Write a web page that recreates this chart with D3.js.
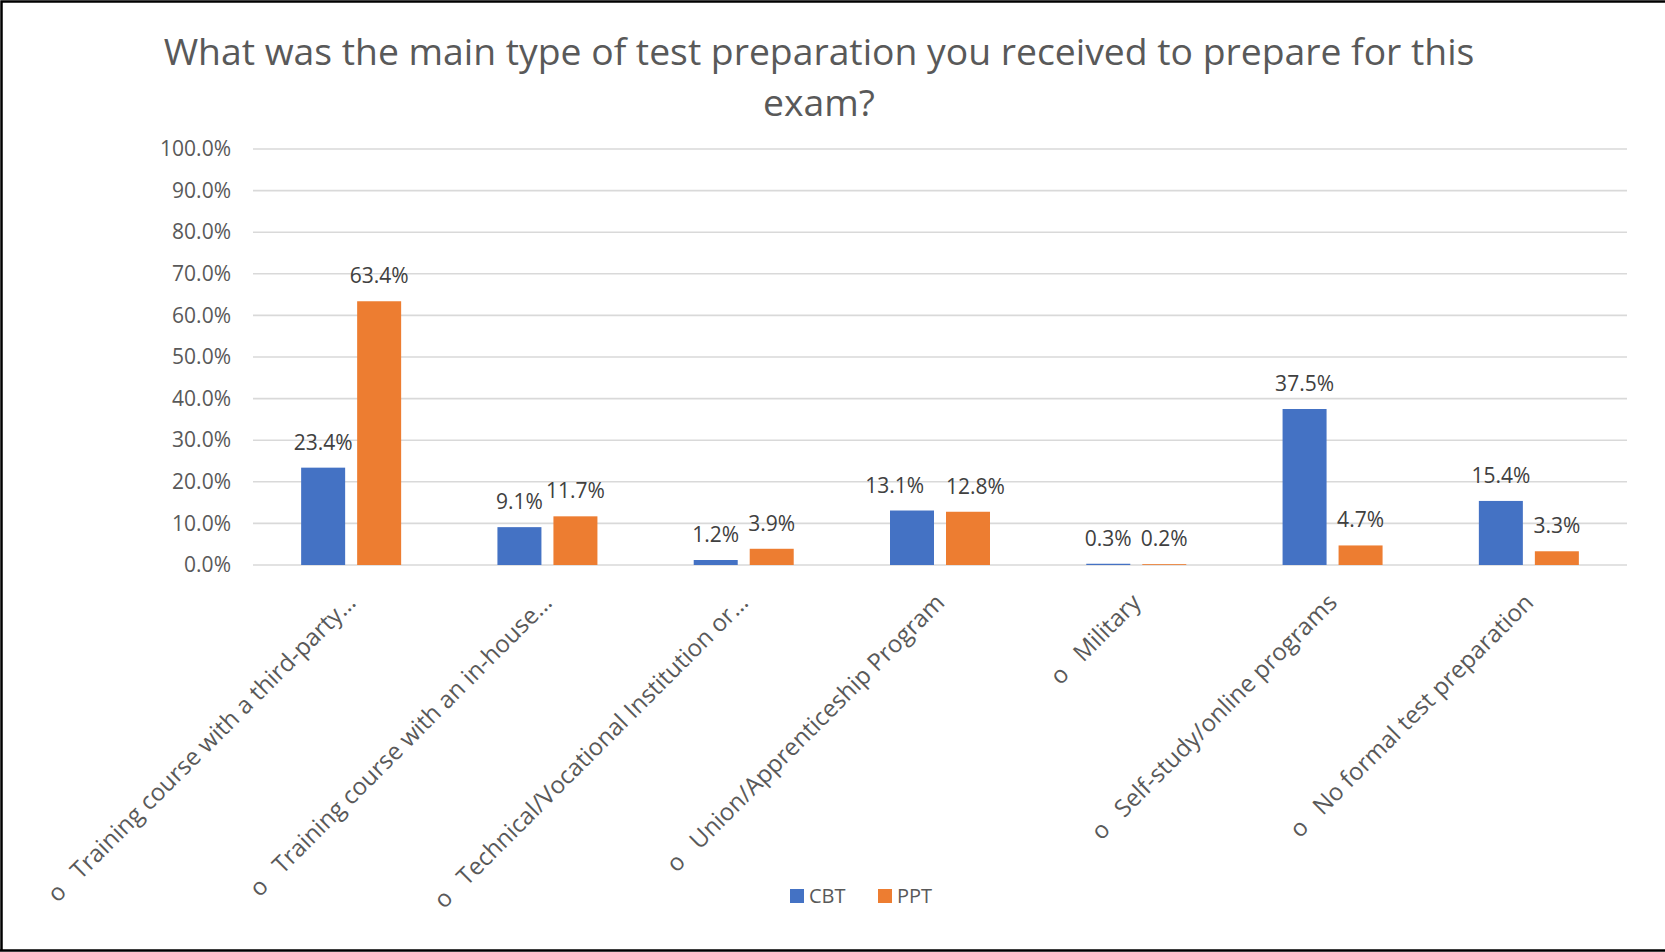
<!DOCTYPE html>
<html>
<head>
<meta charset="utf-8">
<script src="https://cdn.jsdelivr.net/npm/d3@7"></script>
<style>
  body { margin: 0; background: #fff; }
  text { font-family: "Open Sans", "Noto Sans", sans-serif; }
</style>
</head>
<body>
<script>
// chart values
var categories = [
  "Training course with a third-party\u2026",
  "Training course with an in-house\u2026",
  "Technical/Vocational Institution or\u2026",
  "Union/Apprenticeship Program",
  "Military",
  "Self-study/online programs",
  "No formal test preparation"
];
var series = ["CBT", "PPT"];
var cbt = [0.234, 0.091, 0.012, 0.131, 0.003, 0.375, 0.154];
var ppt = [0.634, 0.117, 0.039, 0.128, 0.002, 0.047, 0.033];
var yTicks = [0, 0.1, 0.2, 0.3, 0.4, 0.5, 0.6, 0.7, 0.8, 0.9, 1.0];
var colors = ["#4472C4", "#ED7D31"];
var titleLines = ["What was the main type of test preparation you received to prepare for this", "exam?"];

var w = 1665;
var h = 952;
var plotL = 253, plotR = 1627, plotT = 149, plotB = 565;
var pct = d3.format(".1%");

var svg = d3.select("body")
  .append("svg")
  .attr("width", w)
  .attr("height", h)
  .style("display", "block");

svg.append("rect").attr("width", w).attr("height", h).attr("fill", "#fff");

// frame lines
svg.append("path")
  .attr("d", "M1.5,951 L1.5,1.5 L1665,1.5 M0,950.5 L1665,950.5")
  .attr("fill", "none")
  .attr("stroke", "#000")
  .attr("stroke-width", 2.5);

// title
svg.append("text")
  .attr("text-anchor", "middle")
  .attr("font-size", "37.3px")
  .attr("fill", "#595959")
  .selectAll("tspan")
  .data(titleLines)
  .enter()
  .append("tspan")
  .attr("x", 819)
  .attr("y", function(d, i) { return 65 + i * 51; })
  .text(function(d) { return d; });

var y = d3.scaleLinear().domain([0, 1]).range([plotB, plotT]);
var x0 = d3.scaleBand().domain(categories).range([plotL, plotR]);
var x1 = d3.scaleBand().domain(series).range([0, 100]).paddingInner(12 / 56);
var off = x0.bandwidth() / 2 - 50;

// gridlines
svg.append("g")
  .selectAll("line")
  .data(yTicks)
  .enter()
  .append("line")
  .attr("x1", plotL)
  .attr("x2", plotR)
  .attr("y1", function(d) { return y(d); })
  .attr("y2", function(d) { return y(d); })
  .attr("stroke", "#D9D9D9")
  .attr("stroke-width", 1.6);

// y axis labels
var yAxis = d3.axisLeft(y).tickValues(yTicks).tickFormat(pct).tickSize(0).tickPadding(22);
var ya = svg.append("g").attr("transform", "translate(" + plotL + ",0)").call(yAxis);
ya.select(".domain").remove();
ya.selectAll("text")
  .attr("font-size", "21px")
  .attr("font-family", "'Open Sans', sans-serif")
  .attr("fill", "#595959");

var rows = categories.map(function(c, i) {
  return { cat: c, vals: [cbt[i], ppt[i]] };
});

var groups = svg.selectAll("g.grp")
  .data(rows)
  .enter()
  .append("g")
  .attr("class", "grp")
  .attr("transform", function(d) { return "translate(" + (x0(d.cat) + off) + ",0)"; });

groups.selectAll("rect")
  .data(function(d) { return d.vals; })
  .enter()
  .append("rect")
  .attr("x", function(d, i) { return x1(series[i]); })
  .attr("y", function(d) { return y(d); })
  .attr("width", x1.bandwidth())
  .attr("height", function(d) { return plotB - y(d); })
  .attr("fill", function(d, i) { return colors[i]; });

groups.each(function() {
  var labs = d3.select(this).selectAll("text")
    .data(function(d) { return d.vals; })
    .enter()
    .append("text")
    .attr("text-anchor", "middle")
    .attr("x", function(d, i) { return x1(series[i]) + x1.bandwidth() / 2; })
    .attr("y", function(d) { return y(d) - 18; })
    .attr("font-size", "21px")
    .attr("fill", "#404040")
    .text(function(d) { return pct(d); });

  // push the two labels apart only when they would touch (as Excel does)
  var n = labs.nodes();
  var a = n[0], b = n[1];
  var wa = a.getComputedTextLength(), wb = b.getComputedTextLength();
  var xa = +a.getAttribute("x"), xb = +b.getAttribute("x");
  var ya0 = +a.getAttribute("y"), yb0 = +b.getAttribute("y");
  var gap = (xb - wb / 2) - (xa + wa / 2);
  if (Math.abs(ya0 - yb0) < 20 && gap < 3) {
    var need = 22 - gap;
    a.setAttribute("x", xa - need * 0.7);
    b.setAttribute("x", xb + need * 0.3);
  }
});

// rotated category labels
var xl = svg.selectAll("text.xlab")
  .data(categories)
  .enter()
  .append("text")
  .attr("class", "xlab")
  .attr("text-anchor", "end")
  .attr("font-size", "24px")
  .attr("fill", "#595959")
  .attr("transform", function(d) {
    return "translate(" + (x0(d) + x0.bandwidth() / 2 + 6) + "," + 604 + ") rotate(-45)";
  });
xl.append("tspan").text("o");
xl.append("tspan").attr("dx", 18).text(function(d) { return d; });

// legend
var legend = svg.append("g")
  .selectAll("g")
  .data(series)
  .enter()
  .append("g")
  .attr("transform", function(d, i) { return "translate(" + (790 + i * 88) + ",889)"; });
legend.append("rect")
  .attr("width", 14)
  .attr("height", 14)
  .attr("fill", function(d, i) { return colors[i]; });
legend.append("text")
  .attr("x", 19)
  .attr("y", 14)
  .attr("font-size", "20px")
  .attr("fill", "#595959")
  .text(function(d) { return d; });
</script>
</body>
</html>
